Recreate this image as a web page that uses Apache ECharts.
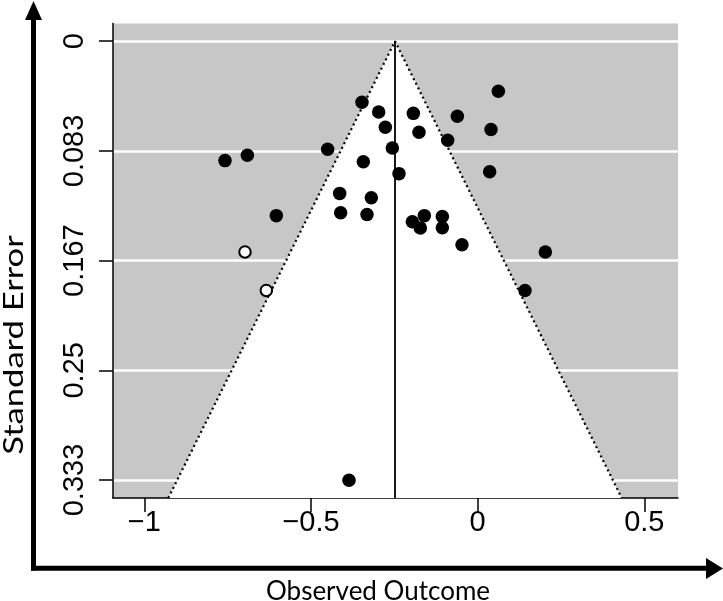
<!DOCTYPE html>
<html>
<head>
<meta charset="utf-8">
<script src="https://cdn.jsdelivr.net/npm/echarts@6/dist/echarts.min.js"></script>
<style>html,body{margin:0;padding:0;background:#fff}#c{width:723px;height:601px}</style>
</head>
<body>
<div id="c"></div>
<script>
// Observed outcomes (x) and standard errors (y) of the studies
const studyOutcome = [0.062,-0.347,-0.297,-0.193,-0.061,-0.277,-0.176,0.040,-0.090,-0.256,
  -0.450,-0.691,-0.758,-0.343,-0.236,0.036,-0.414,-0.319,-0.411,-0.332,
  -0.604,-0.160,-0.106,-0.196,-0.172,-0.106,-0.047,0.203,0.142,-0.386];
const studySE = [0.0380,0.0464,0.0537,0.0548,0.0570,0.0654,0.0692,0.0671,0.0753,0.0811,
  0.0821,0.0867,0.0907,0.0915,0.1006,0.0991,0.1156,0.1189,0.1303,0.1316,
  0.1325,0.1325,0.1331,0.1371,0.1419,0.1417,0.1546,0.1601,0.1893,0.3335];
// Imputed (filled) studies, drawn as open circles
const filledOutcome = [-0.698,-0.634];
const filledSE = [0.1601,0.1893];
// Pooled estimate and funnel
const pooledEstimate = -0.248;
const zCrit = 1.96;
const seBottom = 0.347;
// Axis ticks
const xTicks = [-1,-0.5,0,0.5];
const xTickLabels = ['\u22121','\u22120.5','0','0.5'];
const yTicks = [0,1/12,2/12,3/12,4/12];
const yTickLabels = ['0','0.083','0.167','0.25','0.333'];

const studies = studyOutcome.map((x,i)=>[x,studySE[i]]);
const filled = filledOutcome.map((x,i)=>[x,filledSE[i]]);
const funnelPts = [[pooledEstimate - zCrit*seBottom, seBottom],[pooledEstimate,0],[pooledEstimate + zCrit*seBottom, seBottom]];
const centerLine = [[pooledEstimate,0],[pooledEstimate,seBottom]];

function nearestLabel(v, ticks, labels){
  let best=0, d=Infinity;
  ticks.forEach((t,i)=>{const dd=Math.abs(t-v); if(dd<d){d=dd;best=i;}});
  return labels[best];
}

const chart = echarts.init(document.getElementById('c'), null, {renderer:'canvas'});
const tickFont = '"Liberation Sans Narrow","Liberation Sans",Arial,sans-serif';
const titleFont = 'Lato';
chart.setOption({
  animation:false,
  grid:{left:113,right:45,top:23.5,bottom:103,show:true,backgroundColor:'#c7c7c7',borderWidth:0,
    outerBoundsMode:'none',containLabel:false},
  xAxis:{
    type:'value', min:-1.094, max:0.601,
    axisLine:{show:true,onZero:false,lineStyle:{color:'#000',width:1.5}},
    axisTick:{show:true,length:14,customValues:xTicks,lineStyle:{color:'#000',width:1.5}},
    axisLabel:{customValues:xTicks,margin:10,fontFamily:tickFont,fontSize:29,color:'#000',
      formatter:v=>nearestLabel(v,xTicks,xTickLabels)},
    splitLine:{show:false}
  },
  yAxis:{
    type:'value', inverse:true, min:-0.01346, max:seBottom,
    axisLine:{show:true,onZero:false,lineStyle:{color:'#000',width:1.5}},
    axisTick:{show:true,length:14,customValues:yTicks,lineStyle:{color:'#000',width:1.5}},
    axisLabel:{customValues:yTicks,rotate:90,margin:24,fontFamily:tickFont,fontSize:29,color:'#000',
      formatter:v=>nearestLabel(v,yTicks,yTickLabels)},
    splitLine:{show:true,lineStyle:{color:'#fff',width:2.5}}
  },
  graphic:[
    {type:'line',shape:{x1:33.5,y1:570.5,x2:33.5,y2:18},style:{stroke:'#000',lineWidth:5},z:100},
    {type:'polygon',shape:{points:[[25,20],[42,20],[33.5,1]]},style:{fill:'#000'},z:100},
    {type:'line',shape:{x1:31,y1:568.3,x2:708,y2:568.3},style:{stroke:'#000',lineWidth:5},z:100},
    {type:'polygon',shape:{points:[[706,558],[706,579],[723,568.5]]},style:{fill:'#000'},z:100},
    {type:'text',x:378,y:592,style:{text:'Observed Outcome',fontFamily:titleFont,fontSize:26,fill:'#000',
      align:'center',verticalAlign:'middle'},z:100},
    {type:'text',x:14,y:345,rotation:Math.PI/2,scaleX:1.28,style:{text:'Standard Error',fontFamily:titleFont,fontSize:27,fill:'#000',
      align:'center',verticalAlign:'middle'},z:100}
  ],
  series:[
    {type:'custom', silent:true, z:1,
      data:[0],
      renderItem:(params,api)=>({
        type:'polygon',
        shape:{points:funnelPts.map(p=>api.coord(p))},
        style:{fill:'#fff'}
      })
    },
    {type:'line', data:funnelPts, symbol:'none', z:2,
      lineStyle:{color:'#000',width:2.2,type:[2,3.2]}},
    {type:'line', data:centerLine, symbol:'none', z:3,
      lineStyle:{color:'#000',width:1.8}},
    {type:'scatter', data:studies, symbol:'circle', symbolSize:13.5, z:4,
      itemStyle:{color:'#000',opacity:1}},
    {type:'scatter', data:filled, symbol:'circle', symbolSize:11.5, z:4,
      itemStyle:{color:'#fff',borderColor:'#000',borderWidth:2,opacity:1}}
  ]
});
</script>
</body>
</html>
